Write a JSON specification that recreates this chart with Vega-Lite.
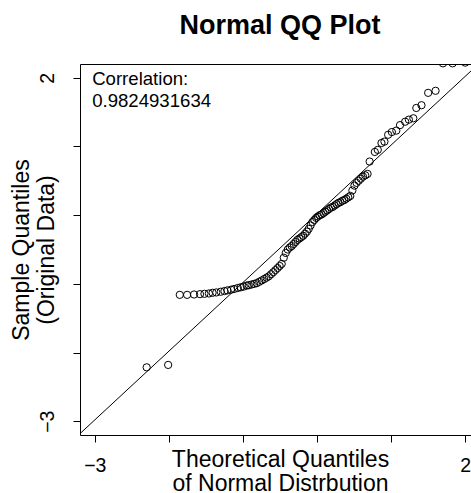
{
  "$schema": "https://vega.github.io/schema/vega-lite/v6.json",
  "autosize": "none",
  "width": 400,
  "height": 371,
  "padding": {"left": 80, "top": 64, "right": 0, "bottom": 58},
  "background": "white",
  "config": {
    "view": {"stroke": "black", "strokeWidth": 1},
    "font": "Liberation Sans"
  },
  "title": {
    "text": "Normal QQ Plot",
    "font": "Liberation Sans",
    "fontSize": 27,
    "fontWeight": "bold",
    "color": "black",
    "baseline": "alphabetic",
    "offset": 3,
    "anchor": "middle"
  },
  "datasets": {
    "pts": [
      {"theo": -2.30, "sample": -2.215},
      {"theo": -2.01, "sample": -2.18},
      {"theo": -1.853, "sample": -1.16},
      {"theo": -1.754, "sample": -1.16},
      {"theo": -1.66, "sample": -1.155},
      {"theo": -1.58, "sample": -1.15},
      {"theo": -1.52, "sample": -1.145},
      {"theo": -1.46, "sample": -1.14},
      {"theo": -1.41, "sample": -1.13},
      {"theo": -1.36, "sample": -1.125},
      {"theo": -1.30, "sample": -1.115},
      {"theo": -1.25, "sample": -1.105},
      {"theo": -1.21, "sample": -1.095},
      {"theo": -1.16, "sample": -1.085},
      {"theo": -1.12, "sample": -1.075},
      {"theo": -1.07, "sample": -1.06},
      {"theo": -1.03, "sample": -1.05},
      {"theo": -0.99, "sample": -1.04},
      {"theo": -0.95, "sample": -1.025},
      {"theo": -0.922, "sample": -1.02},
      {"theo": -0.885, "sample": -1.01},
      {"theo": -0.849, "sample": -1.0},
      {"theo": -0.814, "sample": -0.99},
      {"theo": -0.78, "sample": -0.97},
      {"theo": -0.746, "sample": -0.95},
      {"theo": -0.714, "sample": -0.93},
      {"theo": -0.682, "sample": -0.91},
      {"theo": -0.651, "sample": -0.89},
      {"theo": -0.621, "sample": -0.86},
      {"theo": -0.591, "sample": -0.83},
      {"theo": -0.562, "sample": -0.8},
      {"theo": -0.533, "sample": -0.77},
      {"theo": -0.505, "sample": -0.74},
      {"theo": -0.477, "sample": -0.71},
      {"theo": -0.449, "sample": -0.62},
      {"theo": -0.422, "sample": -0.55},
      {"theo": -0.395, "sample": -0.5},
      {"theo": -0.368, "sample": -0.47},
      {"theo": -0.342, "sample": -0.45},
      {"theo": -0.316, "sample": -0.42},
      {"theo": -0.29, "sample": -0.39},
      {"theo": -0.264, "sample": -0.36},
      {"theo": -0.238, "sample": -0.34},
      {"theo": -0.213, "sample": -0.32},
      {"theo": -0.187, "sample": -0.3},
      {"theo": -0.162, "sample": -0.27},
      {"theo": -0.137, "sample": -0.24},
      {"theo": -0.112, "sample": -0.2},
      {"theo": -0.087, "sample": -0.15},
      {"theo": -0.062, "sample": -0.1},
      {"theo": -0.037, "sample": -0.07},
      {"theo": -0.012, "sample": -0.04},
      {"theo": 0.012, "sample": -0.02},
      {"theo": 0.037, "sample": 0.0},
      {"theo": 0.062, "sample": 0.01},
      {"theo": 0.087, "sample": 0.03},
      {"theo": 0.112, "sample": 0.05},
      {"theo": 0.137, "sample": 0.07},
      {"theo": 0.162, "sample": 0.09},
      {"theo": 0.187, "sample": 0.11},
      {"theo": 0.213, "sample": 0.12},
      {"theo": 0.238, "sample": 0.14},
      {"theo": 0.264, "sample": 0.16},
      {"theo": 0.29, "sample": 0.18},
      {"theo": 0.316, "sample": 0.19},
      {"theo": 0.342, "sample": 0.21},
      {"theo": 0.368, "sample": 0.22},
      {"theo": 0.395, "sample": 0.24},
      {"theo": 0.422, "sample": 0.26},
      {"theo": 0.449, "sample": 0.28},
      {"theo": 0.477, "sample": 0.36},
      {"theo": 0.505, "sample": 0.43},
      {"theo": 0.533, "sample": 0.47},
      {"theo": 0.562, "sample": 0.5},
      {"theo": 0.591, "sample": 0.53},
      {"theo": 0.621, "sample": 0.56},
      {"theo": 0.651, "sample": 0.58},
      {"theo": 0.682, "sample": 0.6},
      {"theo": 0.71, "sample": 0.78},
      {"theo": 0.78, "sample": 0.92},
      {"theo": 0.82, "sample": 0.95},
      {"theo": 0.87, "sample": 1.05},
      {"theo": 0.91, "sample": 1.07},
      {"theo": 0.96, "sample": 1.17},
      {"theo": 1.01, "sample": 1.21},
      {"theo": 1.07, "sample": 1.23},
      {"theo": 1.12, "sample": 1.31},
      {"theo": 1.19, "sample": 1.36},
      {"theo": 1.24, "sample": 1.39},
      {"theo": 1.3, "sample": 1.41},
      {"theo": 1.34, "sample": 1.56},
      {"theo": 1.41, "sample": 1.6},
      {"theo": 1.5, "sample": 1.78},
      {"theo": 1.6, "sample": 1.81},
      {"theo": 1.7, "sample": 2.21},
      {"theo": 1.83, "sample": 2.21},
      {"theo": 2.0, "sample": 2.22}
    ],
    "ref": [
      {"x1": -3.4, "y1": -3.38, "x2": 2.4, "y2": 2.42}
    ],
    "txt": [
      {"tx": -3.036, "ty": 1.894, "label": "Correlation:"},
      {"tx": -3.036, "ty": 1.578, "label": "0.9824931634"}
    ]
  },
  "layer": [
    {
      "data": {"name": "ref"},
      "mark": {"type": "rule", "color": "black", "strokeWidth": 1, "clip": true},
      "encoding": {
        "x": {
          "field": "x1", "type": "quantitative",
          "scale": {"domain": [-3.2, 2.2], "nice": false, "zero": false},
          "axis": {
            "values": [-3, -2, -1, 0, 1, 2],
            "format": "d",
            "labelExpr": "datum.value == -3 || datum.value == 2 ? datum.label : ''",
            "grid": false,
            "domain": false,
            "ticks": true,
            "tickSize": 7,
            "tickColor": "black",
            "tickWidth": 1,
            "labelFont": "Liberation Sans",
            "labelFontSize": 19.5,
            "labelColor": "black",
            "labelBaseline": "alphabetic",
            "labelPadding": 29,
            "labelFlush": false,
            "labelOverlap": false,
            "title": ["Theoretical Quantiles", "of Normal Distrbution"],
            "titleFont": "Liberation Sans",
            "titleFontSize": 23,
            "titleFontWeight": "normal",
            "titleColor": "black",
            "titleBaseline": "alphabetic",
            "titleY": 31.7,
            "titleLineHeight": 23.5
          }
        },
        "y": {
          "field": "y1", "type": "quantitative",
          "scale": {"domain": [-3.2, 2.2], "nice": false, "zero": false},
          "axis": {
            "values": [-3, -2, -1, 0, 1, 2],
            "format": "d",
            "labelExpr": "datum.value == -3 || datum.value == 2 ? datum.label : ''",
            "grid": false,
            "domain": false,
            "ticks": true,
            "tickSize": 7,
            "tickColor": "black",
            "tickWidth": 1,
            "labelFont": "Liberation Sans",
            "labelFontSize": 19.5,
            "labelColor": "black",
            "labelAngle": -90,
            "labelAlign": "center",
            "labelBaseline": "alphabetic",
            "labelPadding": 19.7,
            "labelFlush": false,
            "labelOverlap": false,
            "title": ["Sample Quantiles", "(Original Data)"],
            "titleFont": "Liberation Sans",
            "titleFontSize": 23,
            "titleFontWeight": "normal",
            "titleColor": "black",
            "titleAngle": -90,
            "titleAlign": "center",
            "titleBaseline": "alphabetic",
            "titleX": -51.5,
            "titleY": 185.5,
            "titleLineHeight": 24.5
          }
        },
        "x2": {"field": "x2"},
        "y2": {"field": "y2"}
      }
    },
    {
      "data": {"name": "pts"},
      "mark": {"type": "point", "shape": "circle", "filled": false, "stroke": "black", "strokeWidth": 1, "size": 53, "opacity": 1, "clip": true},
      "encoding": {
        "x": {"field": "theo", "type": "quantitative"},
        "y": {"field": "sample", "type": "quantitative"}
      }
    },
    {
      "data": {"name": "txt"},
      "mark": {"type": "text", "align": "left", "baseline": "alphabetic", "font": "Liberation Sans", "fontSize": 18.6, "color": "black"},
      "encoding": {
        "x": {"field": "tx", "type": "quantitative"},
        "y": {"field": "ty", "type": "quantitative"},
        "text": {"field": "label"}
      }
    }
  ]
}
